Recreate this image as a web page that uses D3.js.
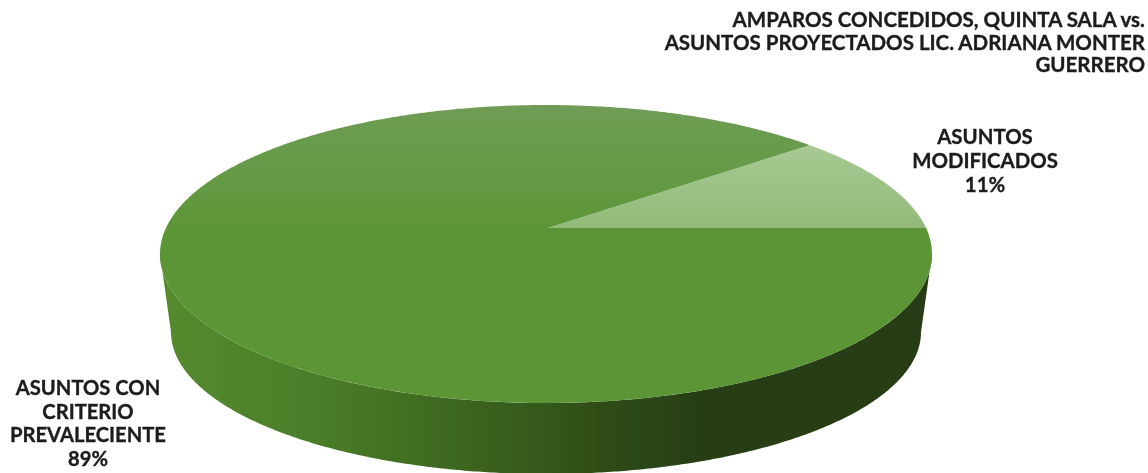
<!DOCTYPE html>
<html>
<head>
<meta charset="utf-8">
<script src="https://cdn.jsdelivr.net/npm/d3@7/dist/d3.min.js"></script>
<style>
  html, body { margin: 0; padding: 0; background: #fff; }
  svg { display: block; }
  text { font-family: Lato, "Open Sans", sans-serif; font-weight: 700; fill: #1c1c1c; stroke: #1c1c1c; stroke-width: 0.35; }
</style>
</head>
<body>
<svg id="chart" width="1148" height="473"></svg>
<script>
// Share of cases per category
const categories = ["ASUNTOS MODIFICADOS", "ASUNTOS CON CRITERIO PREVALECIENTE"];
const shares = [11, 89];
const categoryLabels = [
  ["ASUNTOS", "MODIFICADOS", "11%"],
  ["ASUNTOS CON", "CRITERIO", "PREVALECIENTE", "89%"]
];
const titleLines = [
  "AMPAROS CONCEDIDOS, QUINTA SALA vs.",
  "ASUNTOS PROYECTADOS LIC. ADRIANA MONTER",
  "GUERRERO"
];

const svg = d3.select("#chart");
const defs = svg.append("defs");

// Disc geometry: upper face and the narrower lower rim seen in perspective
const face = { x: d3.scaleLinear([-1, 1], [160, 932]), y: d3.scaleLinear([-1, 1], [403, 105]) };
const rim = { x: d3.scaleLinear([-1, 1], [171, 921]), y: d3.scaleLinear([-1, 1], [474, 190]) };
const apex = [548, 228];

// The true centre of the disc appears above the middle of its ellipse
const centreShift = face.y.invert(apex[1]);

const toRad = Math.PI / 180;
const firstSweep = shares[0] / d3.sum(shares) * 360;
const pie = d3.pie().sort(null)
  .startAngle((90 - firstSweep) * toRad)
  .endAngle((450 - firstSweep) * toRad);
const slices = pie(shares);

// d3.pie angles run clockwise from twelve o'clock; a projective map keeps
// the disc's outline while carrying its centre up to the apex
const projected = (disc, a) => {
  const ux = Math.sin(a), uy = Math.cos(a);
  const w = 1 + centreShift * uy;
  return [disc.x(ux * Math.sqrt(1 - centreShift * centreShift) / w), disc.y((uy + centreShift) / w)];
};
const pointOn = (disc, a) => [disc.x(Math.sin(a)), disc.y(Math.cos(a))];
const line = d3.line();
const sweep = (mapper, disc, a0, a1) => {
  const n = Math.ceil(Math.abs(a1 - a0) / (0.5 * toRad));
  return d3.range(n + 1).map(i => mapper(disc, a0 + (a1 - a0) * i / n));
};

// Side wall shading, light on the left falling into shadow on the right
const wall = defs.append("linearGradient").attr("id", "wall")
  .attr("gradientUnits", "userSpaceOnUse").attr("x1", 160).attr("x2", 932).attr("y1", 0).attr("y2", 0);
[[0, "#558a2f"], [0.18, "#4d7f29"], [0.32, "#426f22"], [0.45, "#385e1d"],
 [0.58, "#2e4c17"], [0.7, "#273e13"], [1, "#263b12"]]
  .forEach(([o, c]) => wall.append("stop").attr("offset", o).attr("stop-color", c));

const faceMain = defs.append("linearGradient").attr("id", "faceMain")
  .attr("gradientUnits", "userSpaceOnUse").attr("x1", 0).attr("x2", 0).attr("y1", 105).attr("y2", 403);
[[0, "#6f9c55"], [0.2, "#679b48"], [0.42, "#5c9536"], [1, "#5c9536"]]
  .forEach(([o, c]) => faceMain.append("stop").attr("offset", o).attr("stop-color", c));

const faceLight = defs.append("linearGradient").attr("id", "faceLight")
  .attr("gradientUnits", "userSpaceOnUse").attr("x1", 0).attr("x2", 0).attr("y1", 146).attr("y2", 228);
[[0, "#a6ca92"], [1, "#93ba7a"]]
  .forEach(([o, c]) => faceLight.append("stop").attr("offset", o).attr("stop-color", c));

defs.append("filter").attr("id", "soft").append("feGaussianBlur").attr("stdDeviation", 0.55);

const discGroup = svg.append("g").attr("filter", "url(#soft)");

// Front wall between the two ellipses
const frontTop = sweep(pointOn, face, 90 * toRad, 270 * toRad);
const frontRim = sweep(pointOn, rim, 270 * toRad, 90 * toRad);
discGroup.append("path")
  .attr("d", line(frontTop.concat(frontRim)) + "Z")
  .attr("fill", "url(#wall)");

// Upper face: one wedge per share, meeting at the apex
discGroup.selectAll("path.slice")
  .data(slices)
  .join("path")
  .attr("class", "slice")
  .attr("d", d => line([apex].concat(sweep(projected, face, d.startAngle, d.endAngle))) + "Z")
  .attr("fill", (d, i) => i === 0 ? "url(#faceLight)" : "url(#faceMain)");

// Labels
const labels = svg.append("g").attr("filter", "url(#soft)");

const block = (lines, x, y0, step, anchor, size) => {
  labels.append("text")
    .attr("text-anchor", anchor)
    .attr("font-size", size)
    .selectAll("tspan")
    .data(lines)
    .join("tspan")
    .attr("x", x)
    .attr("y", (d, i) => y0 + i * step)
    .text(d => d);
};

block(titleLines, 1145, 27, 22.5, "end", 20.5);
block(categoryLabels[0], 985, 144, 24, "middle", 20.4);
block(categoryLabels[1], 88, 395, 23.7, "middle", 20.2);
</script>
</body>
</html>
